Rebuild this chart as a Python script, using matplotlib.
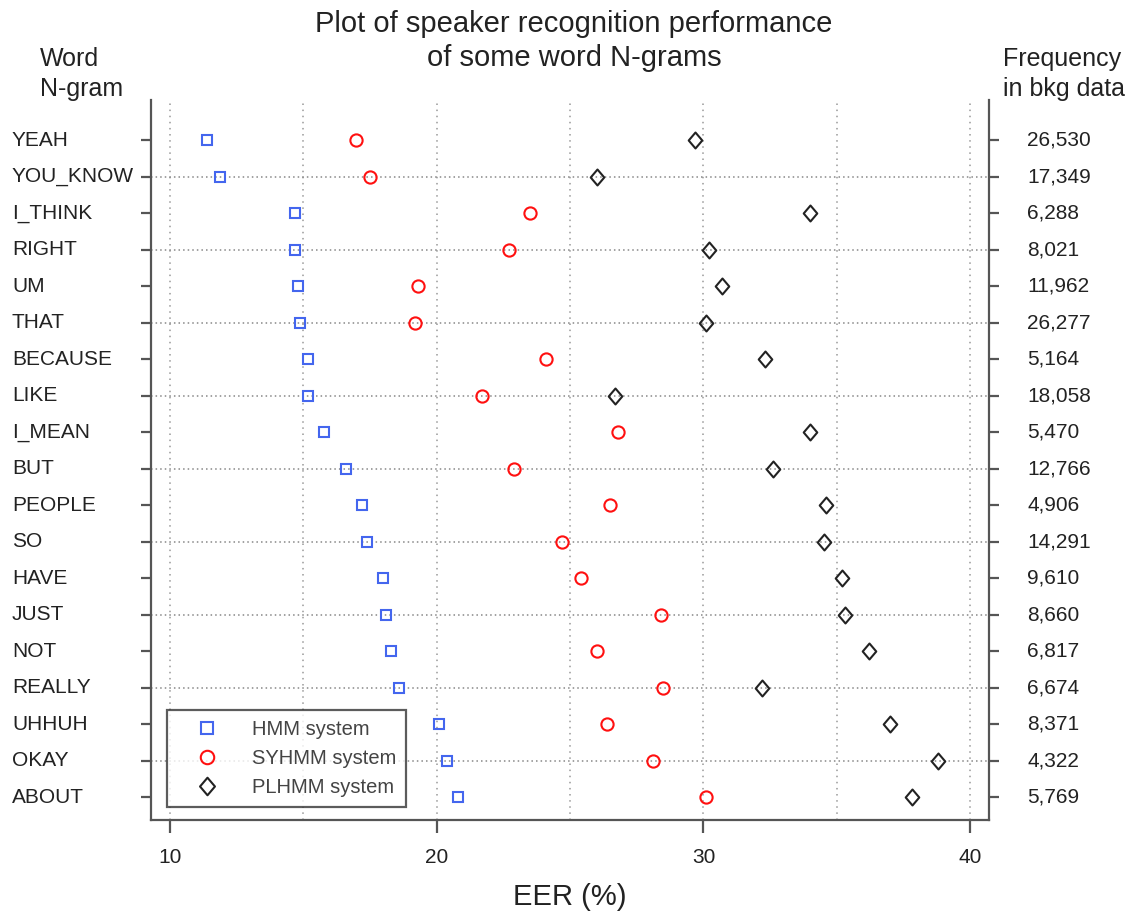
import numpy as np
import matplotlib
matplotlib.use("Agg")
import matplotlib.pyplot as plt
import matplotlib.transforms as mtransforms
from matplotlib.path import Path

plt.rcParams["font.family"] = ["Liberation Sans", "DejaVu Sans"]

ngrams = ["YEAH", "YOU_KNOW", "I_THINK", "RIGHT", "UM", "THAT", "BECAUSE", "LIKE",
          "I_MEAN", "BUT", "PEOPLE", "SO", "HAVE", "JUST", "NOT", "REALLY", "UHHUH",
          "OKAY", "ABOUT"]
freq_labels = ["26,530", "17,349", "6,288", "8,021", "11,962", "26,277", "5,164",
               "18,058", "5,470", "12,766", "4,906", "14,291", "9,610", "8,660",
               "6,817", "6,674", "8,371", "4,322", "5,769"]
eer_hmm = [11.4, 11.9, 14.7, 14.7, 14.8, 14.9, 15.2, 15.2, 15.8, 16.6, 17.2, 17.4,
           18.0, 18.1, 18.3, 18.6, 20.1, 20.4, 20.8]
eer_syhmm = [17.0, 17.5, 23.5, 22.7, 19.3, 19.2, 24.1, 21.7, 26.8, 22.9, 26.5, 24.7,
             25.4, 28.4, 26.0, 28.5, 26.4, 28.1, 30.1]
eer_plhmm = [29.7, 26.0, 34.0, 30.2, 30.7, 30.1, 32.3, 26.7, 34.0, 32.6, 34.6, 34.5,
             35.2, 35.3, 36.2, 32.2, 37.0, 38.8, 37.8]
x_ticks = [10, 20, 30, 40]

# diamond a bit taller than wide, as in the original
diamond = Path([(0, -1), (0.85, 0), (0, 1), (-0.85, 0), (0, -1)], closed=True)

W, H = 1130, 915
fig = plt.figure(figsize=(W / 100, H / 100), dpi=100)
ax = fig.add_axes([151 / W, 1 - 820 / H, (989 - 151) / W, (820 - 100) / H])

y = np.arange(len(ngrams))
spine_col = "#555555"
text_col = "#222222"

for xv in range(10, 41, 5):
    ax.axvline(xv, color="#999999", lw=1.1, ls=(0, (1, 3)), zorder=1)
for yi in y[1::2]:
    ax.axhline(yi, color="#888888", lw=1.1, ls=(0, (1, 2)), zorder=1)

ax.plot(eer_hmm, y, ls="none", marker="s", ms=7.6, mfc="none", mec="#4466ee",
        mew=1.5, label="HMM system", zorder=3)
ax.plot(eer_syhmm, y, ls="none", marker="o", ms=8.8, mfc="none", mec="#ff1010",
        mew=1.5, label="SYHMM system", zorder=3)
ax.plot(eer_plhmm, y, ls="none", marker=diamond, ms=11.5, mfc="none", mec="#222222",
        mew=1.5, label="PLHMM system", zorder=3)

ax.set_xlim(9.3, 40.7)
ax.set_ylim(18.63, -1.1)

ax.spines["top"].set_visible(False)
for s in ("left", "right", "bottom"):
    ax.spines[s].set_color(spine_col)
    ax.spines[s].set_linewidth(1.6)

ax.set_xticks(x_ticks)
ax.set_xticklabels([str(v) for v in x_ticks], fontsize=15, color=text_col)
ax.tick_params(axis="x", direction="out", length=9.5, width=1.6, color=spine_col, pad=11)
ax.set_yticks(y)
ax.set_yticklabels([])
ax.tick_params(axis="y", direction="out", length=7, width=1.6, color=spine_col,
               left=True, right=True)

trans = mtransforms.blended_transform_factory(fig.transFigure, ax.transData)
for yi, name, fr in zip(y, ngrams, freq_labels):
    ax.text(12 / W, yi, name, transform=trans, ha="left", va="center",
            fontsize=15, color=text_col, clip_on=False)
    ax.text(1027 / W, yi, fr, transform=trans, ha="left", va="center",
            fontsize=15, color=text_col, clip_on=False)

ax.set_xlabel("EER (%)", fontsize=21, labelpad=11, color=text_col)

fig.text(574 / W, 1 - 41 / H, "Plot of speaker recognition performance\nof some word N-grams",
         ha="center", va="center", fontsize=21, color=text_col, linespacing=1.3)
fig.text(40 / W, 1 - 74 / H, "Word\nN-gram", ha="left", va="center", fontsize=18,
         color=text_col, linespacing=1.3)
fig.text(1003 / W, 1 - 74 / H, "Frequency\nin bkg data", ha="left", va="center",
         fontsize=18, color=text_col, linespacing=1.3)

leg = ax.legend(loc="lower left", bbox_to_anchor=(0.019, 0.018), borderaxespad=0,
                fontsize=14.5, fancybox=False, frameon=True, handletextpad=0.7,
                borderpad=0.5, labelspacing=0.5, handlelength=3.0, markerscale=1.1)
leg.get_frame().set_edgecolor("#333333")
leg.get_frame().set_linewidth(1.6)
for txt in leg.get_texts():
    txt.set_color("#444444")

fig.savefig("out.png", dpi=100)
